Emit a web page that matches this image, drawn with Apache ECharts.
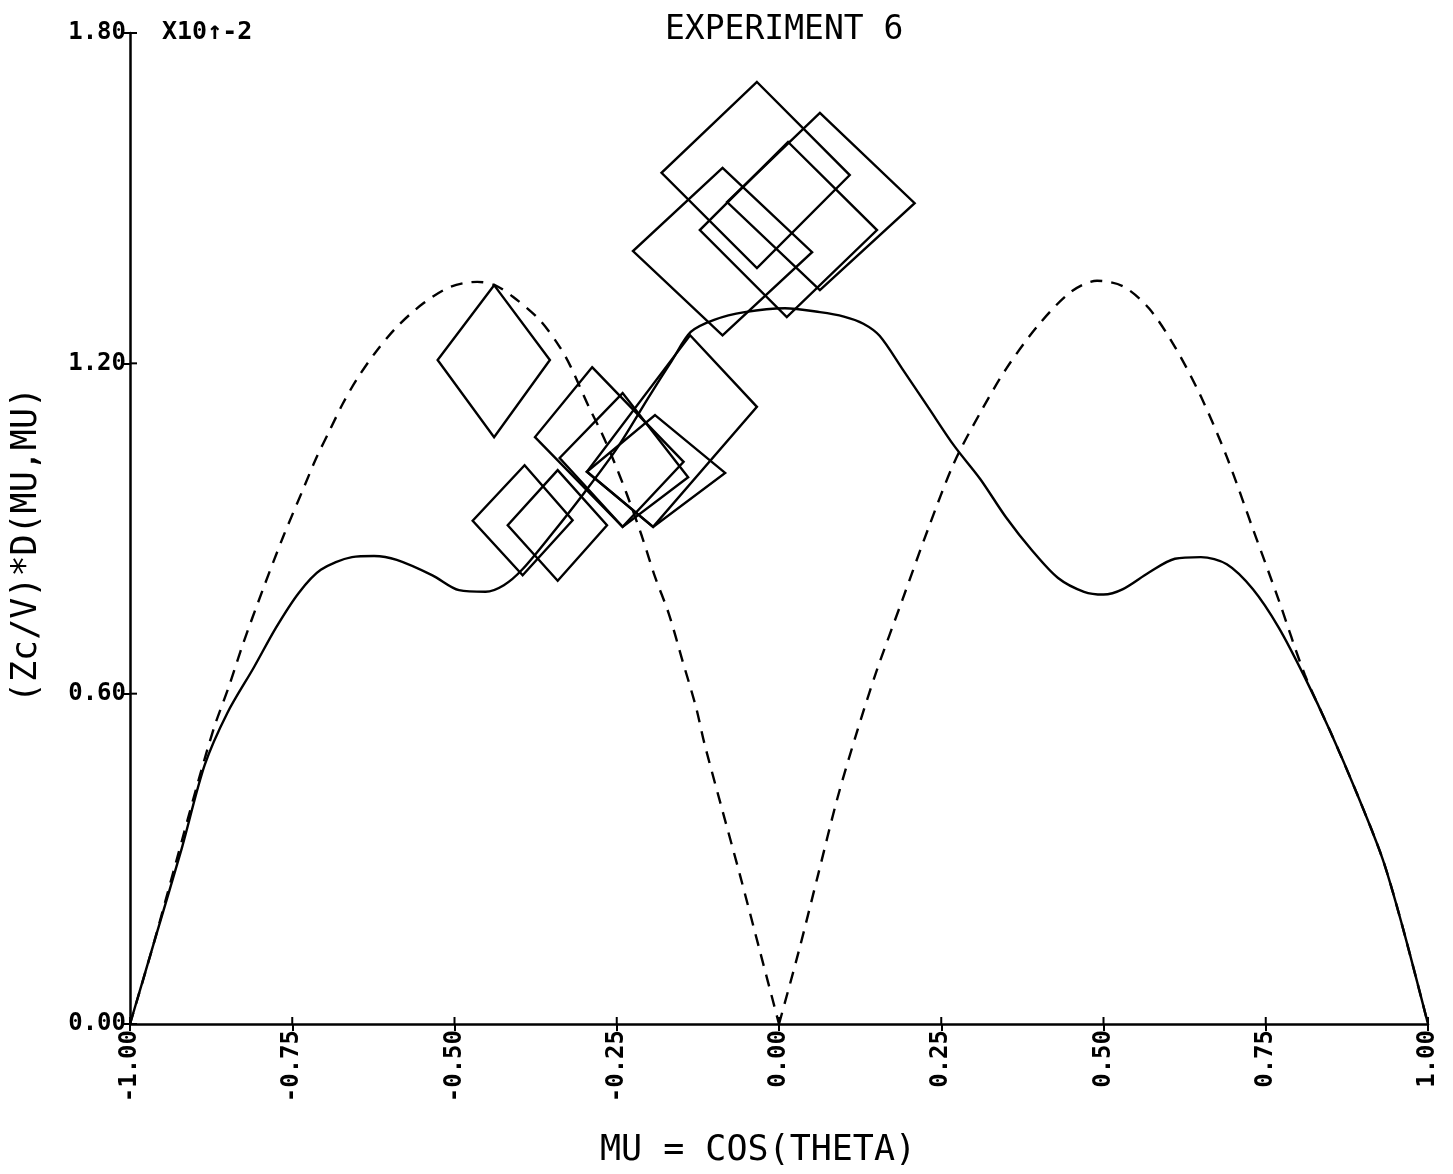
<!DOCTYPE html>
<html>
<head>
<meta charset="utf-8">
<script src="https://cdn.jsdelivr.net/npm/echarts@6/dist/echarts.min.js"></script>
<style>
html,body{margin:0;padding:0;background:#fff;}
#chart{width:1453px;height:1174px;}
</style>
</head>
<body>
<div id="chart"></div>
<script>
// ---- data ----
var xTickLabels = ['-1.00','-0.75','-0.50','-0.25','0.00','0.25','0.50','0.75','1.00'];
var yTickLabels = ['0.00','0.60','1.20','1.80'];

// solid (theory) curve
var solidMu = [-1.0,-0.96,-0.92,-0.885,-0.85,-0.809,-0.775,-0.74,-0.706,-0.658,-0.624,-0.589,-0.534,-0.493,-0.452,-0.424,-0.396,-0.35,-0.30,-0.25,-0.20,-0.165,-0.136,-0.10,-0.053,0.009,0.063,0.10,0.13,0.155,0.19,0.23,0.27,0.31,0.35,0.39,0.43,0.47,0.50,0.53,0.57,0.61,0.65,0.69,0.73,0.77,0.81,0.85,0.89,0.93,0.96,1.0];
var solidY  = [0.0,0.16,0.32,0.47,0.565,0.648,0.72,0.783,0.825,0.848,0.850,0.843,0.815,0.788,0.785,0.797,0.825,0.89,0.965,1.045,1.14,1.205,1.257,1.279,1.293,1.300,1.293,1.285,1.272,1.25,1.19,1.12,1.05,0.99,0.92,0.86,0.81,0.785,0.78,0.79,0.82,0.845,0.848,0.835,0.79,0.72,0.63,0.53,0.42,0.30,0.18,0.0];

// dashed curve, left branch (mu <= 0)
var dashLMu = [-1.0,-0.965,-0.93,-0.895,-0.87,-0.847,-0.826,-0.795,-0.764,-0.733,-0.713,-0.692,-0.672,-0.651,-0.623,-0.589,-0.548,-0.506,-0.465,-0.438,-0.41,-0.369,-0.338,-0.321,-0.293,-0.273,-0.255,-0.235,-0.211,-0.191,-0.17,-0.149,-0.128,-0.115,-0.09,-0.06,-0.03,0.0];
var dashLY  = [0.0,0.14,0.29,0.44,0.54,0.615,0.69,0.79,0.885,0.972,1.028,1.079,1.127,1.17,1.218,1.266,1.309,1.339,1.348,1.342,1.321,1.279,1.23,1.194,1.121,1.073,1.024,0.964,0.885,0.812,0.746,0.661,0.576,0.51,0.40,0.27,0.135,0.0];

// dashed curve, right branch (mu >= 0)
var dashRMu = [0.0,0.03,0.06,0.09,0.12,0.15,0.19,0.23,0.27,0.31,0.35,0.40,0.45,0.49,0.53,0.57,0.61,0.65,0.69,0.73,0.77,0.81,0.85,0.89,0.93,0.96,1.0];
var dashRY  = [0.0,0.13,0.27,0.41,0.53,0.64,0.77,0.90,1.02,1.11,1.19,1.27,1.33,1.35,1.34,1.30,1.23,1.14,1.03,0.90,0.77,0.635,0.53,0.42,0.30,0.18,0.0];

// measured points drawn as error boxes: four corners (mu, value) each
var boxD1 = [-0.439,1.342, -0.353,1.206, -0.439,1.066, -0.526,1.206];
var boxT1 = [-0.034,1.711,  0.109,1.542, -0.034,1.373, -0.181,1.546];
var boxT2 = [ 0.063,1.655,  0.209,1.491,  0.063,1.333, -0.080,1.493];
var boxT3 = [-0.087,1.555,  0.051,1.402, -0.087,1.251, -0.225,1.404];
var boxT4 = [ 0.014,1.602,  0.151,1.442,  0.012,1.284, -0.122,1.442];
var boxL1 = [-0.392,1.015, -0.318,0.915, -0.395,0.815, -0.472,0.914];
var boxL2 = [-0.341,1.006, -0.265,0.906, -0.341,0.805, -0.418,0.906];
var boxL3 = [-0.288,1.193, -0.147,1.021, -0.241,0.903, -0.376,1.066];
var boxM3 = [-0.241,1.146, -0.140,0.993, -0.241,0.903, -0.338,1.028];
var boxM2 = [-0.191,1.106, -0.083,1.001, -0.194,0.903, -0.296,1.003];
var boxM1 = [-0.137,1.251, -0.034,1.121, -0.194,0.903, -0.296,1.003];

// ---- chart ----
function zip(a, b) { return a.map(function (v, i) { return [v, b[i]]; }); }
var boxes = [boxD1, boxT1, boxT2, boxT3, boxT4, boxL1, boxL2, boxL3, boxM3, boxM2, boxM1];
var xTickVals = xTickLabels.map(function (s) { return parseFloat(s); });
var yTickVals = yTickLabels.map(function (s) { return parseFloat(s); });
// tick records: [mu, value, direction(0 = x axis tick, 1 = y axis tick)]
var tickRows = xTickVals.map(function (v) { return [v, 0, 0]; })
  .concat(yTickVals.map(function (v) { return [-1, v, 1]; }));
var FONT = 'DejaVu Sans Mono';
var INK = '#000';
var TICK = 7;

var chart = echarts.init(document.getElementById('chart'), null, {renderer: 'canvas'});
var xFmt = function (v) { var i = Math.round((v + 1) / 0.25); return xTickLabels[i] || ''; };
var yFmt = function (v) { var i = Math.round(v / 0.6); return yTickLabels[i] || ''; };

var option = {
  backgroundColor: '#fff',
  animation: false,
  grid: {left: 130, right: 25, top: 33, bottom: 150},
  xAxis: {
    type: 'value', min: -1, max: 1, interval: 0.25, position: 'bottom',
    axisLine: {show: true, onZero: false, lineStyle: {color: INK, width: 2.5}},
    axisTick: {show: true, length: TICK, lineStyle: {color: INK, width: 2}},
    axisLabel: {rotate: 90, margin: 6, fontFamily: FONT, fontWeight: 'bold', fontSize: 24, color: INK, formatter: xFmt},
    splitLine: {show: false}
  },
  yAxis: {
    type: 'value', min: 0, max: 1.8, interval: 0.6, position: 'left',
    axisLine: {show: true, onZero: false, lineStyle: {color: INK, width: 2.5}},
    axisTick: {show: true, length: TICK, lineStyle: {color: INK, width: 2}},
    axisLabel: {margin: 4, fontFamily: FONT, fontWeight: 'bold', fontSize: 24, color: INK, formatter: yFmt},
    splitLine: {show: false}
  },
  graphic: [
    {type: 'text', left: 665, top: 14, style: {text: 'EXPERIMENT 6', font: '33px ' + FONT, fill: INK}},
    {type: 'text', left: 162, top: 20, style: {text: 'X10\u2191-2', font: 'bold 25px ' + FONT, fill: INK}},
    {type: 'text', left: 600, top: 1133, style: {text: 'MU = COS(THETA)', font: '35px ' + FONT, fill: INK}},
    {type: 'text', x: 27, y: 545, rotation: Math.PI / 2,
     style: {text: '(Zc/V)*D(MU,MU)', font: '35px ' + FONT, fill: INK, textAlign: 'center', textVerticalAlign: 'middle'}}
  ],
  series: [
    {type: 'line', name: 'solid', data: zip(solidMu, solidY), showSymbol: false, smooth: 0.3,
     lineStyle: {color: INK, width: 2.4}},
    {type: 'line', name: 'dashL', data: zip(dashLMu, dashLY), showSymbol: false, smooth: 0.3,
     lineStyle: {color: INK, width: 2.4, type: [12, 9]}},
    {type: 'line', name: 'dashR', data: zip(dashRMu, dashRY), showSymbol: false, smooth: 0.3,
     lineStyle: {color: INK, width: 2.4, type: [12, 9]}},
    {type: 'custom', name: 'boxes',
     dimensions: ['x0','y0','x1','y1','x2','y2','x3','y3'],
     encode: {x: [0, 2, 4, 6], y: [1, 3, 5, 7]},
     data: boxes,
     renderItem: function (params, api) {
       var pts = [];
       for (var k = 0; k < 4; k++) pts.push(api.coord([api.value(2 * k), api.value(2 * k + 1)]));
       return {type: 'polygon', shape: {points: pts},
               style: {fill: 'none', stroke: INK, lineWidth: 2.4}};
     }},
    // inner halves of the crossing tick marks
    {type: 'custom', name: 'innerTicks', clip: false, z: 5,
     dimensions: ['mu', 'val', 'dir'],
     encode: {x: 0, y: 1},
     data: tickRows,
     renderItem: function (params, api) {
       var p = api.coord([api.value(0), api.value(1)]);
       var q = api.value(2) === 0 ? [p[0], p[1] - TICK] : [p[0] + TICK, p[1]];
       return {type: 'polyline', shape: {points: [p, q]},
               style: {fill: 'none', stroke: INK, lineWidth: 2}};
     }}
  ]
};
chart.setOption(option);
</script>
</body>
</html>
